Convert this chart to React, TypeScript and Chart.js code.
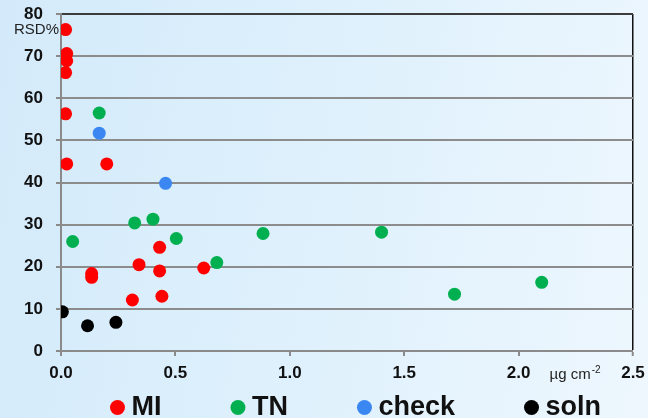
import React, { useEffect, useRef } from "react";
import { Chart, registerables } from "chart.js";

Chart.register(...registerables);

const miX = [0.02, 0.025, 0.025, 0.02, 0.02, 0.025, 0.2, 0.134, 0.134, 0.341, 0.431, 0.431, 0.312, 0.441, 0.624];
const miY = [76.3, 70.6, 68.9, 66.1, 56.3, 44.4, 44.4, 18.4, 17.5, 20.5, 24.6, 19.0, 12.1, 13.0, 19.7];
const tnX = [0.167, 0.051, 0.322, 0.402, 0.504, 0.681, 0.883, 1.401, 1.72, 2.101];
const tnY = [56.5, 26.0, 30.4, 31.3, 26.7, 21.0, 27.9, 28.2, 13.5, 16.3];
const checkX = [0.167, 0.457];
const checkY = [51.7, 39.8];
const solnX = [0.006, 0.116, 0.24];
const solnY = [9.3, 6.0, 6.8];

const seriesNames = ["MI", "TN", "check", "soln"];
const seriesColors = ["#ff0000", "#00b050", "#3b87f2", "#000000"];
const yAxisLabel = "RSD%";
const xUnitMain = "µg cm";
const xUnitSup = "-2";

const FONT = "'Liberation Sans', Arial, sans-serif";
const LEG_PAD = 76;
const LEG_H = 36;

const toPts = (xs: number[], ys: number[]) => xs.map((x, i) => ({ x, y: ys[i] }));

export default function App() {
  const ref = useRef<HTMLCanvasElement | null>(null);
  useEffect(() => {
    if (!ref.current) return;
    const sets = [toPts(miX, miY), toPts(tnX, tnY), toPts(checkX, checkY), toPts(solnX, solnY)];
    const layoutPlugin = {
      id: "legendPlace",
      afterLayout(chart: any) {
        const lg = chart.legend;
        if (!lg) return;
        lg.left = 18;
        lg.right = 700;
        lg.top = lg.top - LEG_PAD + 12;
      },
    };
    const labelsPlugin = {
      id: "extraLabels",
      afterDraw(chart: any) {
        const { ctx, chartArea, scales } = chart;
        ctx.save();
        ctx.fillStyle = "#222";
        ctx.font = `15px ${FONT}`;
        ctx.textAlign = "right";
        ctx.textBaseline = "middle";
        ctx.fillText(yAxisLabel, chartArea.left - 2, chartArea.top + 16);
        const xs = scales.x;
        const start = xs.getPixelForValue(2.0) + 31;
        const py = chartArea.bottom + 28;
        ctx.textAlign = "left";
        ctx.textBaseline = "alphabetic";
        ctx.font = `15px ${FONT}`;
        const w = ctx.measureText(xUnitMain).width;
        ctx.fillText(xUnitMain, start, py);
        ctx.font = `10px ${FONT}`;
        ctx.fillText(xUnitSup, start + w + 1, py - 6);
        ctx.restore();
      },
    };
    const chart = new Chart(ref.current, {
      type: "scatter",
      data: {
        datasets: sets.map((d, i) => ({
          label: seriesNames[i],
          data: d,
          backgroundColor: seriesColors[i],
          borderColor: seriesColors[i],
          borderWidth: 0,
          pointRadius: 6.5,
          pointHoverRadius: 6.5,
        })),
      },
      options: {
        responsive: false,
        animation: false,
        layout: { padding: { left: 0, right: 0, top: 14, bottom: 0 } },
        plugins: {
          tooltip: { enabled: false },
          legend: {
            position: "bottom",
            maxHeight: LEG_H,
            labels: {
              usePointStyle: true,
              pointStyle: "circle",
              boxWidth: 1,
              boxHeight: 10.6,
              padding: LEG_PAD,
              color: "#111",
              font: { family: FONT, size: 27, weight: "bold" },
            },
          },
        },
        scales: {
          x: {
            type: "linear",
            min: 0,
            max: 2.5,
            afterFit: (s: any) => {
              s.height = 31;
              s.paddingLeft = 0;
              s.paddingRight = 15;
            },
            ticks: {
              stepSize: 0.5,
              color: "#111",
              padding: 7,
              font: { family: FONT, size: 17, weight: "bold" },
              callback: (v: any) => Number(v).toFixed(1),
            },
            grid: {
              drawOnChartArea: true,
              color: (c: any) => (c.tick && c.tick.value === 2.5 ? "#111" : "rgba(0,0,0,0)"),
              lineWidth: (c: any) => (c.tick && c.tick.value === 2.5 ? 1.5 : 0),
              tickColor: "#8a8a8a",
              tickLength: 5,
              tickWidth: 2,
            },
            border: { color: "#8a8a8a", width: 2 },
          },
          y: {
            min: 0,
            max: 80,
            afterFit: (s: any) => {
              s.width = 61;
              s.paddingTop = 0;
              s.paddingBottom = 0;
            },
            ticks: {
              stepSize: 10,
              color: "#111",
              padding: 13,
              font: { family: FONT, size: 17, weight: "bold" },
            },
            grid: {
              color: (c: any) => (c.tick && c.tick.value === 80 ? "#3c3c3c" : "#8c8c8c"),
              lineWidth: 2,
              tickColor: "#8a8a8a",
              tickLength: 5,
              tickWidth: 2,
            },
            border: { color: "#8a8a8a", width: 2 },
          },
        },
      },
      plugins: [layoutPlugin, labelsPlugin],
    });
    return () => chart.destroy();
  }, []);
  return (
    <div
      style={{
        position: "fixed",
        left: 0,
        top: 0,
        width: 648,
        height: 418,
        background: "linear-gradient(100deg, #d4eafa 0%, #ddf0fc 45%, #eef7fe 100%)",
      }}
    >
      <canvas ref={ref} width={648} height={418} />
    </div>
  );
}
